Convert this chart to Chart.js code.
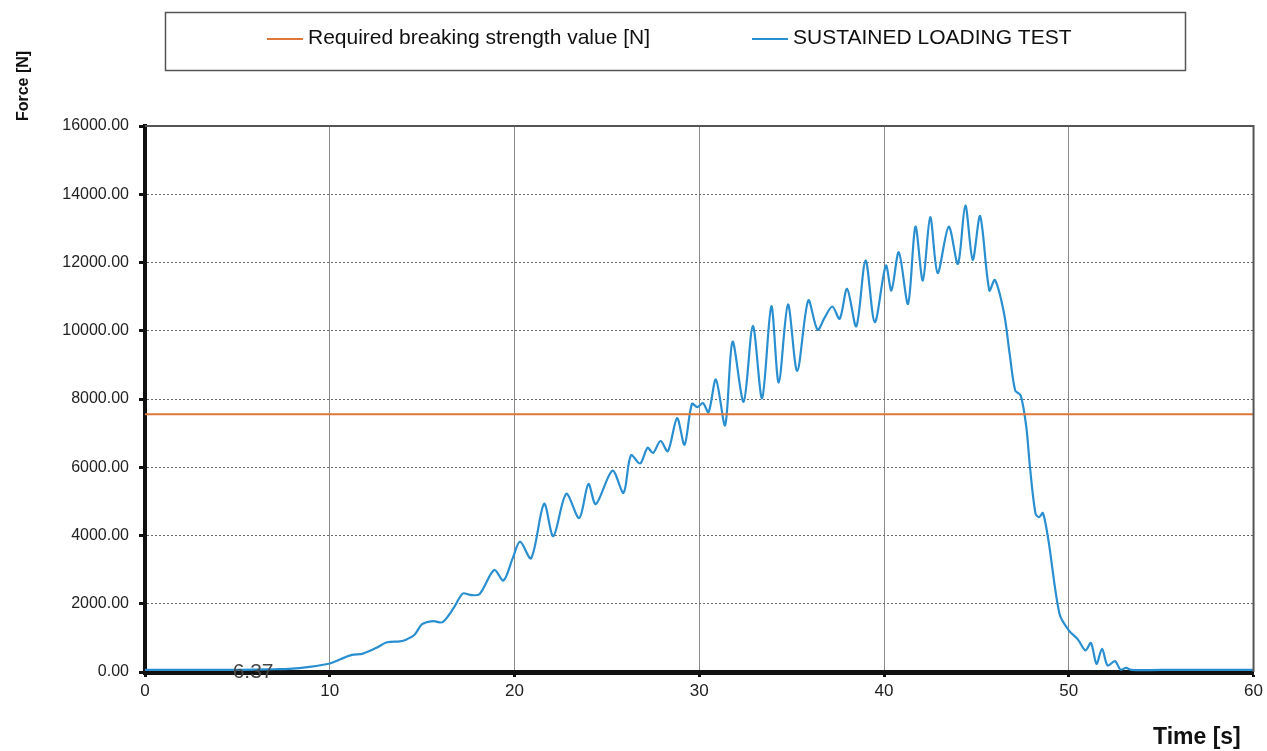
<!DOCTYPE html>
<html>
<head>
<meta charset="utf-8">
<script src="https://cdn.jsdelivr.net/npm/chart.js@4.4.1/dist/chart.umd.min.js"></script>
<style>
  html, body { margin: 0; padding: 0; background: #fff; }
  #wrap { width: 1267px; height: 751px; position: relative; }
</style>
</head>
<body>
<div id="wrap"><canvas id="chart" width="1267" height="751"></canvas></div>
<script>
const timeS = [0, 2, 4, 6, 7, 7.8, 8.9, 10, 10.6, 11.2, 11.8, 12.5, 13.1, 13.8, 14.1, 14.6, 15.0, 15.6, 16.1, 16.7,
  17.2, 17.6, 18.1, 18.9, 19.4, 19.9, 20.3, 20.9, 21.6, 22.1, 22.8, 23.5, 24.0, 24.4, 25.3, 25.9, 26.3, 26.8,
  27.2, 27.5, 27.9, 28.3, 28.8, 29.2, 29.6, 29.9, 30.2, 30.5, 30.9, 31.4, 31.8, 32.4, 32.9, 33.4, 33.9, 34.3,
  34.8, 35.3, 35.9, 36.4, 36.8, 37.2, 37.6, 38.0, 38.5, 39.0, 39.5, 40.1, 40.4, 40.8, 41.3, 41.7, 42.1, 42.5,
  42.9, 43.5, 44.0, 44.4, 44.8, 45.2, 45.7, 46.0, 46.5, 46.8, 47.1, 47.4, 47.7, 47.9, 48.2, 48.4, 48.6, 48.9,
  49.5, 50.0, 50.5, 50.9, 51.2, 51.5, 51.8, 52.1, 52.5, 52.8, 53.1, 53.4, 55, 60];
const forceN = [60, 60, 60, 70, 80, 90, 150, 250, 380, 500, 540, 700, 870, 900, 940, 1100, 1400, 1490, 1460, 1870,
  2300, 2260, 2280, 2990, 2680, 3330, 3820, 3330, 4930, 3980, 5220, 4510, 5510, 4920, 5900, 5250, 6350, 6110,
  6570, 6420, 6770, 6470, 7440, 6660, 7860, 7760, 7880, 7610, 8570, 7230, 9680, 7920, 10140, 8020, 10720, 8480,
  10770, 8820, 10890, 10030, 10400, 10710, 10350, 11230, 10130, 12060, 10250, 11910, 11180, 12300, 10790, 13050, 11470, 13330,
  11690, 13050, 11960, 13670, 12080, 13360, 11180, 11490, 10500, 9320, 8250, 8100, 7180, 6000, 4640, 4540, 4660, 3850,
  1700, 1220, 950, 630, 850, 240, 680, 190, 320, 70, 120, 60, 60, 60];
const requiredTime = [0, 60];
const requiredForce = [7550, 7550];
const xTicks = [0, 10, 20, 30, 40, 50, 60];
const seriesLabels = ["Required breaking strength value [N]", "SUSTAINED LOADING TEST"];
const minLabel = { t: 5.85, text: "6.37" };

const FONT = "'Liberation Sans', Arial, sans-serif";
const ORANGE = "#e0773a";
const BLUE = "#2a8fd0";

const toPoints = (xs, ys) => xs.map((x, i) => ({ x, y: ys[i] }));

const decor = {
  id: "decor",
  afterDraw(chart) {
    const { ctx, chartArea: a, scales } = chart;
    ctx.save();
    // frame top/right
    ctx.strokeStyle = "#555";
    ctx.lineWidth = 2;
    ctx.beginPath();
    ctx.moveTo(a.left, a.top);
    ctx.lineTo(a.right, a.top);
    ctx.lineTo(a.right, a.bottom);
    ctx.stroke();

    // legend box
    ctx.strokeStyle = "#555";
    ctx.lineWidth = 1.5;
    ctx.strokeRect(165.5, 12.5, 1020, 58);
    ctx.font = "21px " + FONT;
    ctx.textBaseline = "middle";
    ctx.fillStyle = "#111";
    const items = [
      { x: 267, color: ORANGE, label: seriesLabels[0] },
      { x: 752, color: BLUE, label: seriesLabels[1] }
    ];
    items.forEach(it => {
      ctx.strokeStyle = it.color;
      ctx.lineWidth = 2;
      ctx.beginPath();
      ctx.moveTo(it.x, 39);
      ctx.lineTo(it.x + 36, 39);
      ctx.stroke();
      ctx.fillText(it.label, it.x + 41, 38);
    });

    // axis titles
    ctx.font = "bold 16px " + FONT;
    ctx.save();
    ctx.translate(24, 86);
    ctx.rotate(-Math.PI / 2);
    ctx.textAlign = "center";
    ctx.fillText("Force [N]", 0, 0);
    ctx.restore();
    ctx.font = "bold 23px " + FONT;
    ctx.textAlign = "left";
    ctx.fillText("Time [s]", 1153, 738);

    // min label
    ctx.font = "21px " + FONT;
    ctx.fillStyle = "#444";
    ctx.textAlign = "center";
    ctx.fillText(minLabel.text, scales.x.getPixelForValue(minLabel.t), scales.y.getPixelForValue(0));
    ctx.restore();
  }
};

new Chart(document.getElementById("chart"), {
  type: "scatter",
  data: {
    datasets: [
      {
        label: seriesLabels[0],
        data: toPoints(requiredTime, requiredForce),
        showLine: true,
        borderColor: ORANGE,
        borderWidth: 2,
        pointRadius: 0
      },
      {
        label: seriesLabels[1],
        data: toPoints(timeS, forceN),
        showLine: true,
        borderColor: BLUE,
        borderWidth: 2.2,
        pointRadius: 0,
        tension: 0.3
      }
    ]
  },
  options: {
    responsive: false,
    animation: false,
    layout: { padding: { left: 0, right: 12, top: 126, bottom: 0 } },
    plugins: { legend: { display: false }, tooltip: { enabled: false } },
    scales: {
      x: {
        type: "linear",
        min: 0,
        max: 60,
        afterBuildTicks: s => { s.ticks = xTicks.map(v => ({ value: v })); },
        afterFit: s => { s.height = 79; },
        ticks: { color: "#222", font: { family: FONT, size: 17 }, padding: 4, maxRotation: 0 },
        grid: { color: "#8a8a8a", lineWidth: 1, tickLength: 5, tickColor: "#111", tickWidth: 3 },
        border: { color: "#111", width: 5 }
      },
      y: {
        min: 0,
        max: 16000,
        ticks: {
          stepSize: 2000,
          color: "#222",
          font: { family: FONT, size: 16 },
          padding: 10,
          callback: v => v.toFixed(2)
        },
        afterFit: s => { s.width = 145; },
        grid: { color: "#6a6a6a", lineWidth: 1, tickLength: 6, tickColor: "#111", tickWidth: 3 },
        border: { color: "#111", width: 4, dash: [2, 2] }
      }
    }
  },
  plugins: [decor]
});
</script>
</body>
</html>
